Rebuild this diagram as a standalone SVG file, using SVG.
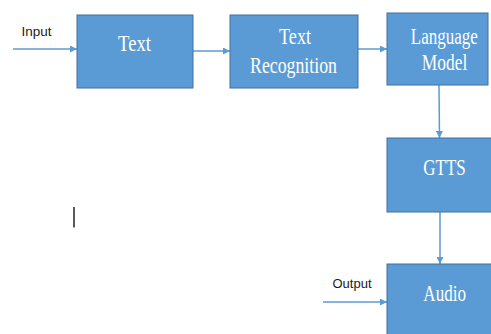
<svg xmlns="http://www.w3.org/2000/svg" width="491" height="334" viewBox="0 0 491 334">
<defs>
<style>
.box{fill:#5b9bd5;stroke:#41719c;stroke-width:1}
.lbl{fill:#ffffff;font-family:"Liberation Serif","DejaVu Serif",serif;font-size:17px;text-anchor:middle}
.io{fill:#1a1a1a;font-family:"Liberation Sans","DejaVu Sans",sans-serif;font-size:13px}
.conn{stroke:#5b9bd5;stroke-width:1.5;fill:none;marker-end:url(#ah)}
</style>
<marker id="ah" viewBox="0 0 10 10" refX="10" refY="5" markerWidth="7" markerHeight="7" markerUnits="userSpaceOnUse" orient="auto">
<path d="M0,0 L10,5 L0,10 z" fill="#5b9bd5"/>
</marker>
</defs>
<rect width="491" height="334" fill="#ffffff"/>
<g id="connectors">
<line class="conn" x1="13" y1="49" x2="77" y2="49"/>
<line class="conn" x1="193" y1="51" x2="230" y2="51"/>
<line class="conn" x1="358" y1="49" x2="387" y2="49"/>
<line class="conn" x1="439" y1="85" x2="439.5" y2="138"/>
<line class="conn" x1="440" y1="212" x2="440" y2="264"/>
<line class="conn" x1="323" y1="302" x2="387" y2="302"/>
</g>
<g id="input-label"><text class="io" x="21.5" y="36" textLength="30" lengthAdjust="spacingAndGlyphs">Input</text></g>
<g id="output-label"><text class="io" x="332.5" y="287.5" textLength="39" lengthAdjust="spacingAndGlyphs">Output</text></g>
<g id="node-text">
<rect class="box" x="77" y="15" width="116" height="73"/>
<text class="lbl" transform="translate(134.5,50.7) scale(1,1.4)" textLength="33" lengthAdjust="spacingAndGlyphs">Text</text>
</g>
<g id="node-text-recognition">
<rect class="box" x="230" y="15" width="128" height="73"/>
<text class="lbl" transform="translate(295,43.5) scale(1,1.4)" textLength="32" lengthAdjust="spacingAndGlyphs">Text</text>
<text class="lbl" transform="translate(293.5,73) scale(1,1.4)" textLength="87" lengthAdjust="spacingAndGlyphs">Recognition</text>
</g>
<g id="node-language-model">
<rect class="box" x="387" y="13" width="101" height="72"/>
<text class="lbl" transform="translate(444.3,44.3) scale(1,1.4)" textLength="67" lengthAdjust="spacingAndGlyphs">Language</text>
<text class="lbl" transform="translate(444.5,70) scale(1,1.4)" textLength="45.5" lengthAdjust="spacingAndGlyphs">Model</text>
</g>
<g id="node-gtts">
<rect class="box" x="387" y="138" width="110" height="74"/>
<text class="lbl" transform="translate(444.5,175) scale(1,1.4)" textLength="42.5" lengthAdjust="spacingAndGlyphs">GTTS</text>
</g>
<g id="node-audio">
<rect class="box" x="387" y="264" width="110" height="80"/>
<text class="lbl" transform="translate(444.7,300.7) scale(1,1.4)" textLength="42.7" lengthAdjust="spacingAndGlyphs">Audio</text>
</g>
<line x1="74" y1="207" x2="74" y2="227.5" stroke="#000000" stroke-width="1.3"/>
</svg>
